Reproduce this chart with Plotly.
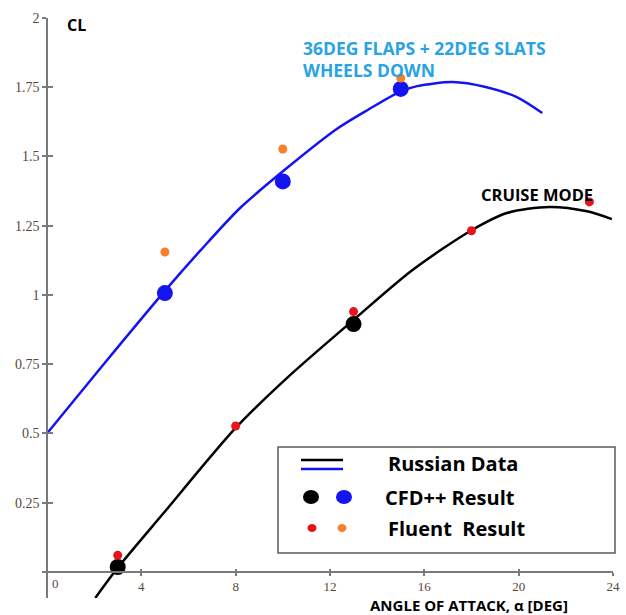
import plotly.graph_objects as go

# ---- data ----
flaps_curve_aoa = [0, 2.5, 5.0, 6.5, 8.2, 10.2, 12.3, 13.6, 15.0, 15.7, 17.2, 18.6, 19.9, 21.0]
flaps_curve_cl = [0.5, 0.76, 1.015, 1.16, 1.315, 1.46, 1.6, 1.668, 1.735, 1.754, 1.769, 1.751, 1.715, 1.657]

cruise_curve_aoa = [2.05, 3.0, 4.92, 8.0, 10.17, 13.0, 15.5, 17.97, 19.5, 21.3, 22.9, 23.95]
cruise_curve_cl = [-0.094, 0.015, 0.21, 0.52, 0.70, 0.91, 1.09, 1.232, 1.296, 1.318, 1.302, 1.274]

cfd_flaps_aoa = [5, 10, 15]
cfd_flaps_cl = [1.007, 1.41, 1.744]
cfd_cruise_aoa = [3, 13]
cfd_cruise_cl = [0.018, 0.895]

fluent_flaps_aoa = [5, 10, 15]
fluent_flaps_cl = [1.155, 1.527, 1.783]
fluent_cruise_aoa = [3, 8, 13, 18, 23]
fluent_cruise_cl = [0.06, 0.527, 0.94, 1.232, 1.336]

x_ticks = [0, 4, 8, 12, 16, 20, 24]
x_tick_labels = ["", "4", "8", "12", "16", "20", "24"]
y_ticks = [0.25, 0.5, 0.75, 1, 1.25, 1.5, 1.75, 2]
y_tick_labels = ["0.25", "0.5", "0.75", "1", "1.25", "1.5", "1.75", "2"]

BLUE = "#1414f0"
BLACK = "#000000"
RED = "#e8141c"
ORANGE = "#f5822a"
LBLUE = "#29a3e3"
AXIS = "#7a7a7a"
TICKFONT = dict(family="Liberation Serif, DejaVu Serif, serif", size=14, color="#5a4838")
XTICKFONT = dict(family="Liberation Serif, DejaVu Serif, serif", size=13, color="#5a4838")
BOLD = "Open Sans, Lato, Liberation Sans, sans-serif"

W, H = 626, 615
ML, MR, MT, MB = 42, 13, 18, 17
XR = [-0.21, 24.0]
YR = [-0.094, 2.0]

fig = go.Figure()
fig.add_trace(go.Scatter(x=flaps_curve_aoa, y=flaps_curve_cl, mode="lines",
                         line=dict(color=BLUE, width=2.5, shape="spline", smoothing=0.8),
                         showlegend=False, hoverinfo="skip"))
fig.add_trace(go.Scatter(x=cruise_curve_aoa, y=cruise_curve_cl, mode="lines",
                         line=dict(color=BLACK, width=2.5, shape="spline", smoothing=0.8),
                         showlegend=False, hoverinfo="skip"))
fig.add_trace(go.Scatter(x=cfd_flaps_aoa, y=cfd_flaps_cl, mode="markers",
                         marker=dict(color=BLUE, size=16), showlegend=False))
fig.add_trace(go.Scatter(x=cfd_cruise_aoa, y=cfd_cruise_cl, mode="markers",
                         marker=dict(color=BLACK, size=16), showlegend=False))
fig.add_trace(go.Scatter(x=fluent_flaps_aoa, y=fluent_flaps_cl, mode="markers",
                         marker=dict(color=ORANGE, size=9), showlegend=False))
fig.add_trace(go.Scatter(x=fluent_cruise_aoa, y=fluent_cruise_cl, mode="markers",
                         marker=dict(color=RED, size=9), showlegend=False))
# dummy trace to activate overlay axes (for crossing tick marks)
fig.add_trace(go.Scatter(x=[None], y=[None], xaxis="x2", yaxis="y2", showlegend=False))

xpos = (0 - YR[0]) / (YR[1] - YR[0])
ypos = (0 - XR[0]) / (XR[1] - XR[0])

common_x = dict(range=XR, tickvals=x_ticks, showgrid=False, zeroline=False, automargin=False)
common_y = dict(range=YR, tickvals=y_ticks, showgrid=False, zeroline=False, automargin=False)

fig.update_layout(
    width=W, height=H,
    margin=dict(l=ML, r=MR, t=MT, b=MB),
    paper_bgcolor="white", plot_bgcolor="white",
    xaxis=dict(**common_x, ticktext=x_tick_labels, anchor="free", position=xpos,
               showline=True, linecolor=AXIS, linewidth=1.5,
               ticks="outside", ticklen=3, tickwidth=1.5, tickcolor=AXIS, tickfont=XTICKFONT),
    yaxis=dict(**common_y, ticktext=y_tick_labels, anchor="free", position=ypos,
               showline=True, linecolor=AXIS, linewidth=1.5,
               ticks="outside", ticklen=4, tickwidth=1.5, tickcolor=AXIS, tickfont=TICKFONT),
    xaxis2=dict(**common_x, overlaying="x", matches="x", anchor="free", position=xpos,
                showline=False, showticklabels=False,
                ticks="inside", ticklen=3, tickwidth=1.5, tickcolor=AXIS),
    yaxis2=dict(**common_y, overlaying="y", matches="y", anchor="free", position=ypos,
                showline=False, showticklabels=False,
                ticks="inside", ticklen=5, tickwidth=1.5, tickcolor=AXIS),
)

pw = W - ML - MR
ph = H - MT - MB


def px(xp):
    return (xp - ML) / pw


def py(yp):
    return (H - MB - yp) / ph


ann = []
def text(t, xp, yp, size, color, anchor="left", family=BOLD, bold=True):
    ann.append(dict(text=("<b>%s</b>" % t) if bold else t, x=px(xp), y=py(yp), xref="paper", yref="paper",
                    xanchor=anchor, yanchor="middle", showarrow=False,
                    font=dict(family=family, size=size, color=color)))

text("0", 55, 583, 13, "#5a4838", anchor="center", family=XTICKFONT["family"], bold=False)
text("CL", 65, 25, 16, BLACK)
text("36DEG FLAPS + 22DEG SLATS", 301, 48, 17.5, LBLUE)
text("WHEELS DOWN", 301, 70, 17.5, LBLUE)
text("CRUISE MODE", 479, 194, 16.5, BLACK)
text("ANGLE OF ATTACK, α [DEG]", 368, 605, 15, BLACK)
text("Russian Data", 386, 463, 20, BLACK)
text("CFD++ Result", 383, 497, 20, BLACK)
text("Fluent&nbsp;&nbsp;Result", 386, 528, 20, BLACK)
fig.update_layout(annotations=ann)

shapes = []
shapes.append(dict(type="rect", xref="paper", yref="paper", x0=px(278), x1=px(615), y0=py(447), y1=py(553),
                   line=dict(color="#5a5a5a", width=1.5), fillcolor="white", layer="below"))
shapes.append(dict(type="line", xref="paper", yref="paper", x0=px(301), x1=px(343), y0=py(460), y1=py(460),
                   line=dict(color=BLACK, width=2.5)))
shapes.append(dict(type="line", xref="paper", yref="paper", x0=px(301), x1=px(343), y0=py(469), y1=py(469),
                   line=dict(color=BLUE, width=2.5)))


def dot(cx, cy, rx, ry, color):
    shapes.append(dict(type="circle", xref="paper", yref="paper", x0=px(cx - rx), x1=px(cx + rx),
                       y0=py(cy + ry), y1=py(cy - ry), fillcolor=color, line=dict(width=0)))

dot(311, 497, 8, 7, BLACK)
dot(344, 497, 8, 7, BLUE)
dot(312, 528, 4.5, 4, RED)
dot(342, 528, 4.5, 4, ORANGE)
fig.update_layout(shapes=shapes)

fig.write_html("out.html", config={"displayModeBar": False},
               post_script="document.body.style.margin='0';document.body.style.overflow='hidden';")
